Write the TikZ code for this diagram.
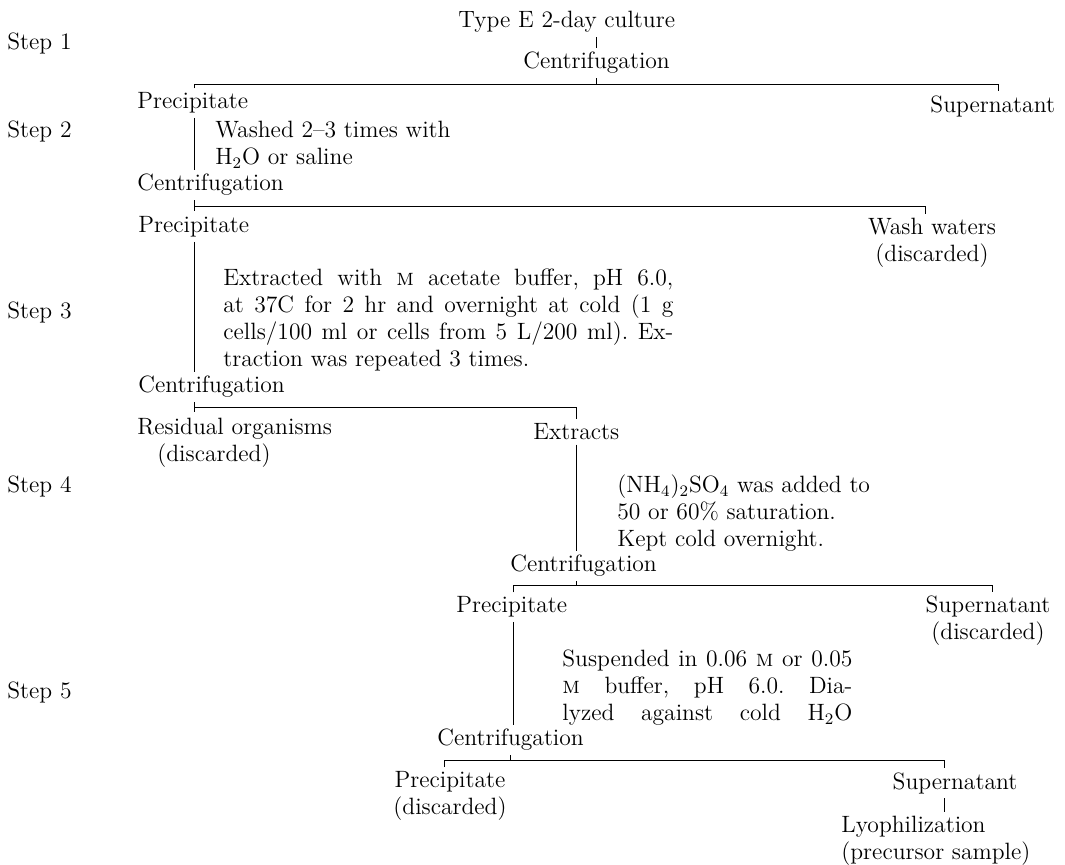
\documentclass[tikz,border=0pt]{standalone}
\usepackage{tikz}
\usetikzlibrary{positioning,calc}

\tikzset{
    txt/.style={inner sep=0pt, anchor=west, align=left},
    rule/.style={line width=0.5pt},
    link/.style={rule, shorten <=2pt, shorten >=2pt},
    stem/.style={rule, shorten <=2pt},
    tip/.style={rule, shorten >=2pt},
}
\newcommand{\molar}{\textsc{m}}
\frenchspacing

\begin{document}
\begin{tikzpicture}[x=0.5pt, y=-0.5pt, every node/.style={font=\fontsize{11.8}{13.5}\selectfont\frenchspacing}]
    \useasboundingbox (0,0) rectangle (1065,864);

    % Step labels
    \node[txt] (step1) at (7,43) {Step 1};
    \node[txt] (step2) at (7,131) {Step 2};
    \node[txt] (step3) at (7,312) {Step 3};
    \node[txt] (step4) at (7,486) {Step 4};
    \node[txt] (step5) at (7,692) {Step 5};

    % Step 1
    \node[txt] (culture) at (458,22) {Type E 2-day culture};
    \node[txt] (cent1) at (523,63) {Centrifugation};
    \coordinate (t1) at (596,84);
    \coordinate (bl1) at (194,84);
    \coordinate (br1) at (998,84);
    \node[txt] (prec1) at (137,103) {Precipitate};
    \node[txt] (super1) at (930,106) {Supernatant};
    \draw[link] (t1 |- culture.south) -- (t1 |- cent1.north);
    \draw[stem] (t1 |- cent1.south) -- (t1);
    \draw[link] (bl1 |- prec1.north) -- (bl1) -- (br1) -- (br1 |- super1.north);

    % Step 2
    \node[txt] (wash) at (215,145) {Washed 2--3 times with\\H$_2$O or saline};
    \node[txt] (cent2) at (137,185) {Centrifugation};
    \coordinate (bl2) at (194,206);
    \coordinate (br2) at (925,206);
    \node[txt] (prec2) at (138,227) {Precipitate};
    \node[inner sep=0pt, align=center] (washw) at (932,243) {Wash waters\\(discarded)};
    \draw[link] (bl1 |- prec1.south) -- (bl1 |- cent2.north);
    \draw[stem] (bl2 |- cent2.south) -- ($(bl2)+(0,5)$);
    \draw[tip] (bl2) -- (br2) -- (br2 |- washw.north);

    % Step 3
    \node[txt] (extr) at (223,320) {%
        \makebox[225pt][s]{Extracted with \molar\ acetate buffer, pH 6.0,}\\
        \makebox[225pt][s]{at 37C for 2 hr and overnight at cold (1 g}\\
        \makebox[225pt][s]{cells/100 ml or cells from 5 L/200 ml). Ex-}\\
        traction was repeated 3 times.};
    \node[txt] (cent3) at (138,387) {Centrifugation};
    \coordinate (bl3) at (194,407);
    \coordinate (br3) at (576,407);
    \node[txt] (resid) at (137,443) {Residual organisms\\\hspace*{10pt}(discarded)};
    \node[txt] (extracts) at (533,432) {Extracts};
    \draw[link] (bl2 |- prec2.south) -- (bl2 |- cent3.north);
    \draw[stem] (bl3 |- cent3.south) -- ($(bl3)+(0,5)$);
    \draw[tip] (bl3) -- (br3) -- (br3 |- extracts.north);

    % Step 4
    \node[txt] (ammon) at (617,513) {(NH$_4$)$_2$SO$_4$ was added to\\50 or 60\% saturation.\\Kept cold overnight.};
    \node[txt] (cent4) at (510,566) {Centrifugation};
    \coordinate (t4) at (576,585);
    \coordinate (bl4) at (513,585);
    \coordinate (br4) at (992,585);
    \node[txt] (prec4) at (456,607) {Precipitate};
    \node[inner sep=0pt, align=center] (super4) at (988,621) {Supernatant\\(discarded)};
    \draw[link] (br3 |- extracts.south) -- (br3 |- cent4.north);
    \draw[stem] (t4 |- cent4.south) -- (t4);
    \draw[link] (bl4 |- prec4.north) -- (bl4) -- (br4) -- (br4 |- super4.north);

    % Step 5
    \node[txt] (susp) at (562,688) {%
        \makebox[145pt][s]{Suspended in 0.06 \molar\ or 0.05}\\
        \makebox[145pt][s]{\molar\ buffer, pH 6.0. Dia-}\\
        \makebox[145pt][s]{lyzed against cold H$_2$O}};
    \node[txt] (cent5) at (437,740) {Centrifugation};
    \coordinate (t5) at (510,760);
    \coordinate (bl5) at (444,760);
    \coordinate (br5) at (944,760);
    \node[inner sep=0pt, align=center] (prec5) at (450,796) {Precipitate\\(discarded)};
    \node[inner sep=0pt] (super5) at (955,783) {Supernatant};
    \node[txt] (lyo) at (841,841) {Lyophilization\\(precursor sample)};
    \draw[link] (bl4 |- prec4.south) -- (bl4 |- cent5.north);
    \draw[stem] (t5 |- cent5.south) -- (t5);
    \draw[link] (bl5 |- prec5.north) -- (bl5) -- (br5) -- (br5 |- super5.north);
    \draw[link] (br5 |- super5.south) -- (br5 |- lyo.north);
\end{tikzpicture}
\end{document}
